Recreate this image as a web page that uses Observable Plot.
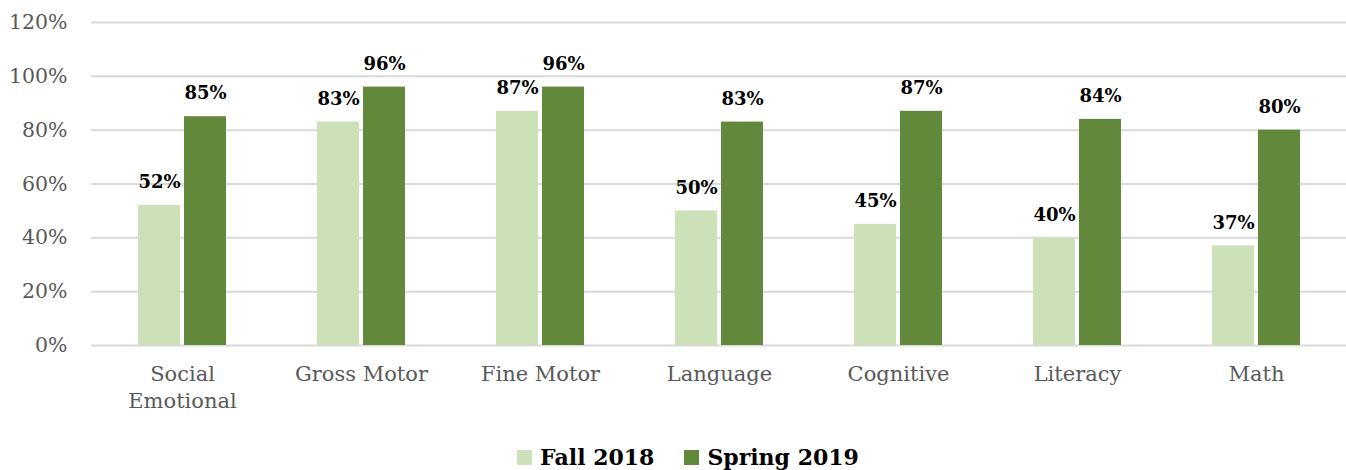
<!DOCTYPE html>
<html>
<head>
<meta charset="utf-8">
<script src="https://cdn.jsdelivr.net/npm/d3@7"></script>
<script src="https://cdn.jsdelivr.net/npm/@observablehq/plot@0.6"></script>
<style>
  html, body { margin: 0; padding: 0; background: #fff; }
  #chart { width: 1346px; }
  .legend { display: flex; justify-content: center; align-items: center; gap: 30px; height: 50px; margin-top: 12px;
    font-family: "DejaVu Serif", serif; font-weight: bold; font-size: 22px; color: #000; padding-left: 30px; }
  .legend span.item { display: flex; align-items: center; gap: 8px; }
  .legend span.sw { width: 15px; height: 15px; display: inline-block; }
</style>
</head>
<body>
<div id="chart"></div>
<script>
const categories = ["Social Emotional", "Gross Motor", "Fine Motor", "Language", "Cognitive", "Literacy", "Math"];
const categoryLabels = ["Social\nEmotional", "Gross Motor", "Fine Motor", "Language", "Cognitive", "Literacy", "Math"];
const series = ["Fall 2018", "Spring 2019"];
const fall2018 = [52, 83, 87, 50, 45, 40, 37];
const spring2019 = [85, 96, 96, 83, 87, 84, 80];
const yTicks = [0, 20, 40, 60, 80, 100, 120];
const colors = ["#cde1b9", "#62883b"];

const fallData = categories.map((c, i) => ({category: c, series: series[0], value: fall2018[i]}));
const springData = categories.map((c, i) => ({category: c, series: series[1], value: spring2019[i]}));
const labelMap = new Map(categories.map((c, i) => [c, categoryLabels[i]]));

const chart = Plot.plot({
  width: 1346,
  height: 420,
  marginLeft: 91,
  marginRight: 0,
  marginTop: 22,
  marginBottom: 75,
  style: {fontFamily: "'DejaVu Serif', serif", background: "#fff"},
  x: {domain: categories, paddingInner: 0.509, paddingOuter: 0.2545, label: null},
  y: {domain: [0, 120], label: null},
  marks: [
    Plot.ruleY(yTicks, {stroke: "#d9d9d9", strokeWidth: 2}),
    Plot.barY(fallData, {x: "category", y: "value", fill: colors[0], insetRight: 46}),
    Plot.barY(springData, {x: "category", y: "value", fill: colors[1], insetLeft: 46}),
    Plot.text(fallData, {x: "category", y: "value", text: d => d.value + "%", dx: -23, dy: -23,
      fontWeight: "bold", fontSize: 18, fill: "#000"}),
    Plot.text(springData, {x: "category", y: "value", text: d => d.value + "%", dx: 23, dy: -23,
      fontWeight: "bold", fontSize: 18, fill: "#000"}),
    Plot.axisY({ticks: yTicks, tickSize: 0, tickPadding: 24, tickFormat: d => d + "%",
      fontSize: 20.5, fill: "#595959", label: null}),
    Plot.axisX({tickSize: 0, tickPadding: 17, tickFormat: d => labelMap.get(d),
      fontSize: 21, fill: "#595959", lineHeight: 1.27, label: null})
  ]
});
document.getElementById("chart").appendChild(chart);

const legend = document.createElement("div");
legend.className = "legend";
series.forEach((s, i) => {
  const item = document.createElement("span");
  item.className = "item";
  const sw = document.createElement("span");
  sw.className = "sw";
  sw.style.background = colors[i];
  const t = document.createElement("span");
  t.textContent = s;
  item.appendChild(sw);
  item.appendChild(t);
  legend.appendChild(item);
});
document.getElementById("chart").appendChild(legend);
</script>
</body>
</html>
